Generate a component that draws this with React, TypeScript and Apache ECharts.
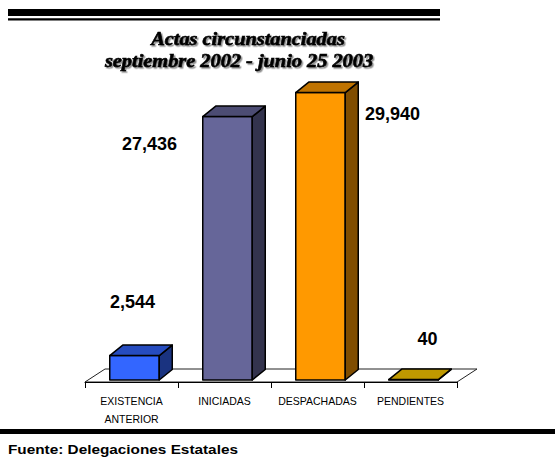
import React, { useEffect, useRef } from "react";
import * as echarts from "echarts";

const categories = ["EXISTENCIA\nANTERIOR", "INICIADAS", "DESPACHADAS", "PENDIENTES"];
const values = [2544, 27436, 29940, 40];
const valueLabels = ["2,544", "27,436", "29,940", "40"];
const titleLines = ["Actas circunstanciadas", "septiembre 2002 - junio 25 2003"];
const sourceText = "Fuente: Delegaciones Estatales";

const frontColors = ["#3366FF", "#666699", "#FF9900", "#FFCC00"];
const topColors = ["#264CBF", "#4C4C73", "#BF7300", "#BF9900"];
const sideColors = ["#1A3380", "#33334D", "#804D00", "#806600"];
const labelOffsets = [
  [1, -56],
  [-75, 25],
  [75, 19.5],
  [17, -42.5],
];

export default function App() {
  const ref = useRef<HTMLDivElement>(null);
  useEffect(() => {
    if (!ref.current) return;
    const chart = echarts.init(ref.current, null, { renderer: "svg" });
    const barW = 49.5;
    const insetX = 3;
    const insetY = -2;
    const dx = 13;
    const dy = -10.5;
    const titleStyle = {
      fontFamily: "Liberation Serif, Times New Roman, serif",
      fontStyle: "italic",
      fontWeight: "bold",
      fontSize: 18,
      fill: "#000",
      stroke: "#000",
      lineWidth: 0.6,
      align: "center",
      verticalAlign: "middle",
      textShadowColor: "rgba(0,0,0,0.45)",
      textShadowOffsetX: 1.5,
      textShadowOffsetY: 1.5,
      textShadowBlur: 1,
    };
    const option: any = {
      animation: false,
      backgroundColor: "#ffffff",
      grid: { left: 85, right: 98, top: 94, bottom: 75 },
      xAxis: {
        type: "category",
        data: categories,
        boundaryGap: true,
        axisLine: { show: true, lineStyle: { color: "#000", width: 1 } },
        axisTick: { show: true, length: 6, lineStyle: { color: "#000", width: 1 } },
        axisLabel: {
          interval: 0,
          color: "#000",
          fontFamily: "Liberation Sans, Arial, sans-serif",
          fontSize: 10.5,
          lineHeight: 18,
          margin: 10,
        },
        splitLine: { show: false },
        z: 3,
      },
      yAxis: { type: "value", min: 0, max: 30000, show: false },
      series: [
        {
          type: "custom",
          z: 1,
          clip: false,
          data: [[0, 0]],
          renderItem: (params: any, api: any) => {
            const first = api.coord([0, 0]);
            const last = api.coord([categories.length - 1, 0]);
            const band = api.size([1, 0])[0];
            const l = first[0] - band / 2;
            const r = last[0] + band / 2;
            const y = first[1];
            return {
              type: "polygon",
              shape: { points: [[l, y], [l + 20, y - 13], [r + 20, y - 13], [r, y]] },
              style: { fill: "#fff", stroke: "#222", lineWidth: 1 },
            };
          },
        },
        {
          type: "custom",
          z: 5,
          clip: false,
          data: values.map((v, i) => [i, v]),
          encode: { x: 0, y: 1 },
          renderItem: (params: any, api: any) => {
            const i = params.dataIndex;
            const base = api.coord([api.value(0), 0]);
            const top = api.coord([api.value(0), api.value(1)]);
            const x0 = base[0] - barW / 2 + insetX;
            const x1 = x0 + barW;
            const yb = base[1] + insetY;
            const yt = top[1] + insetY;
            const stroke = { stroke: "#000", lineWidth: 1.5, lineJoin: "round" };
            return {
              type: "group",
              children: [
                {
                  type: "polygon",
                  shape: { points: [[x0, yb], [x1, yb], [x1, yt], [x0, yt]] },
                  style: { fill: frontColors[i], ...stroke },
                },
                {
                  type: "polygon",
                  shape: { points: [[x1, yb], [x1 + dx, yb + dy], [x1 + dx, yt + dy], [x1, yt]] },
                  style: { fill: sideColors[i], ...stroke },
                },
                {
                  type: "polygon",
                  shape: { points: [[x0, yt], [x1, yt], [x1 + dx, yt + dy], [x0 + dx, yt + dy]] },
                  style: { fill: topColors[i], ...stroke },
                },
                {
                  type: "text",
                  x: top[0] + labelOffsets[i][0],
                  y: top[1] + labelOffsets[i][1],
                  style: {
                    text: valueLabels[i],
                    fontFamily: "Liberation Sans, Arial, sans-serif",
                    fontWeight: "bold",
                    fontSize: 18,
                    fill: "#000",
                    align: "center",
                    verticalAlign: "middle",
                  },
                },
              ],
            };
          },
        },
      ],
      graphic: [
        { type: "rect", shape: { x: 8, y: 9, width: 432, height: 7 }, style: { fill: "#000" } },
        { type: "rect", shape: { x: 8, y: 18.3, width: 432, height: 2.3 }, style: { fill: "#000" } },
        { type: "rect", shape: { x: 0, y: 429, width: 555, height: 5 }, style: { fill: "#000" } },
        {
          type: "text",
          x: 248,
          y: 39,
          scaleX: 1.13,
          style: { text: titleLines[0], ...titleStyle },
        },
        {
          type: "text",
          x: 239,
          y: 61,
          scaleX: 1.13,
          style: { text: titleLines[1], ...titleStyle },
        },
        {
          type: "text",
          x: 8,
          y: 449,
          scaleX: 1.18,
          style: {
            text: sourceText,
            fontFamily: "Liberation Sans, Arial, sans-serif",
            fontWeight: "bold",
            fontSize: 13,
            fill: "#000",
            align: "left",
            verticalAlign: "middle",
          },
        },
      ],
    };
    chart.setOption(option);
    return () => chart.dispose();
  }, []);
  return (
    <div
      ref={ref}
      style={{ position: "fixed", left: 0, top: 0, width: 555, height: 457 }}
    />
  );
}
